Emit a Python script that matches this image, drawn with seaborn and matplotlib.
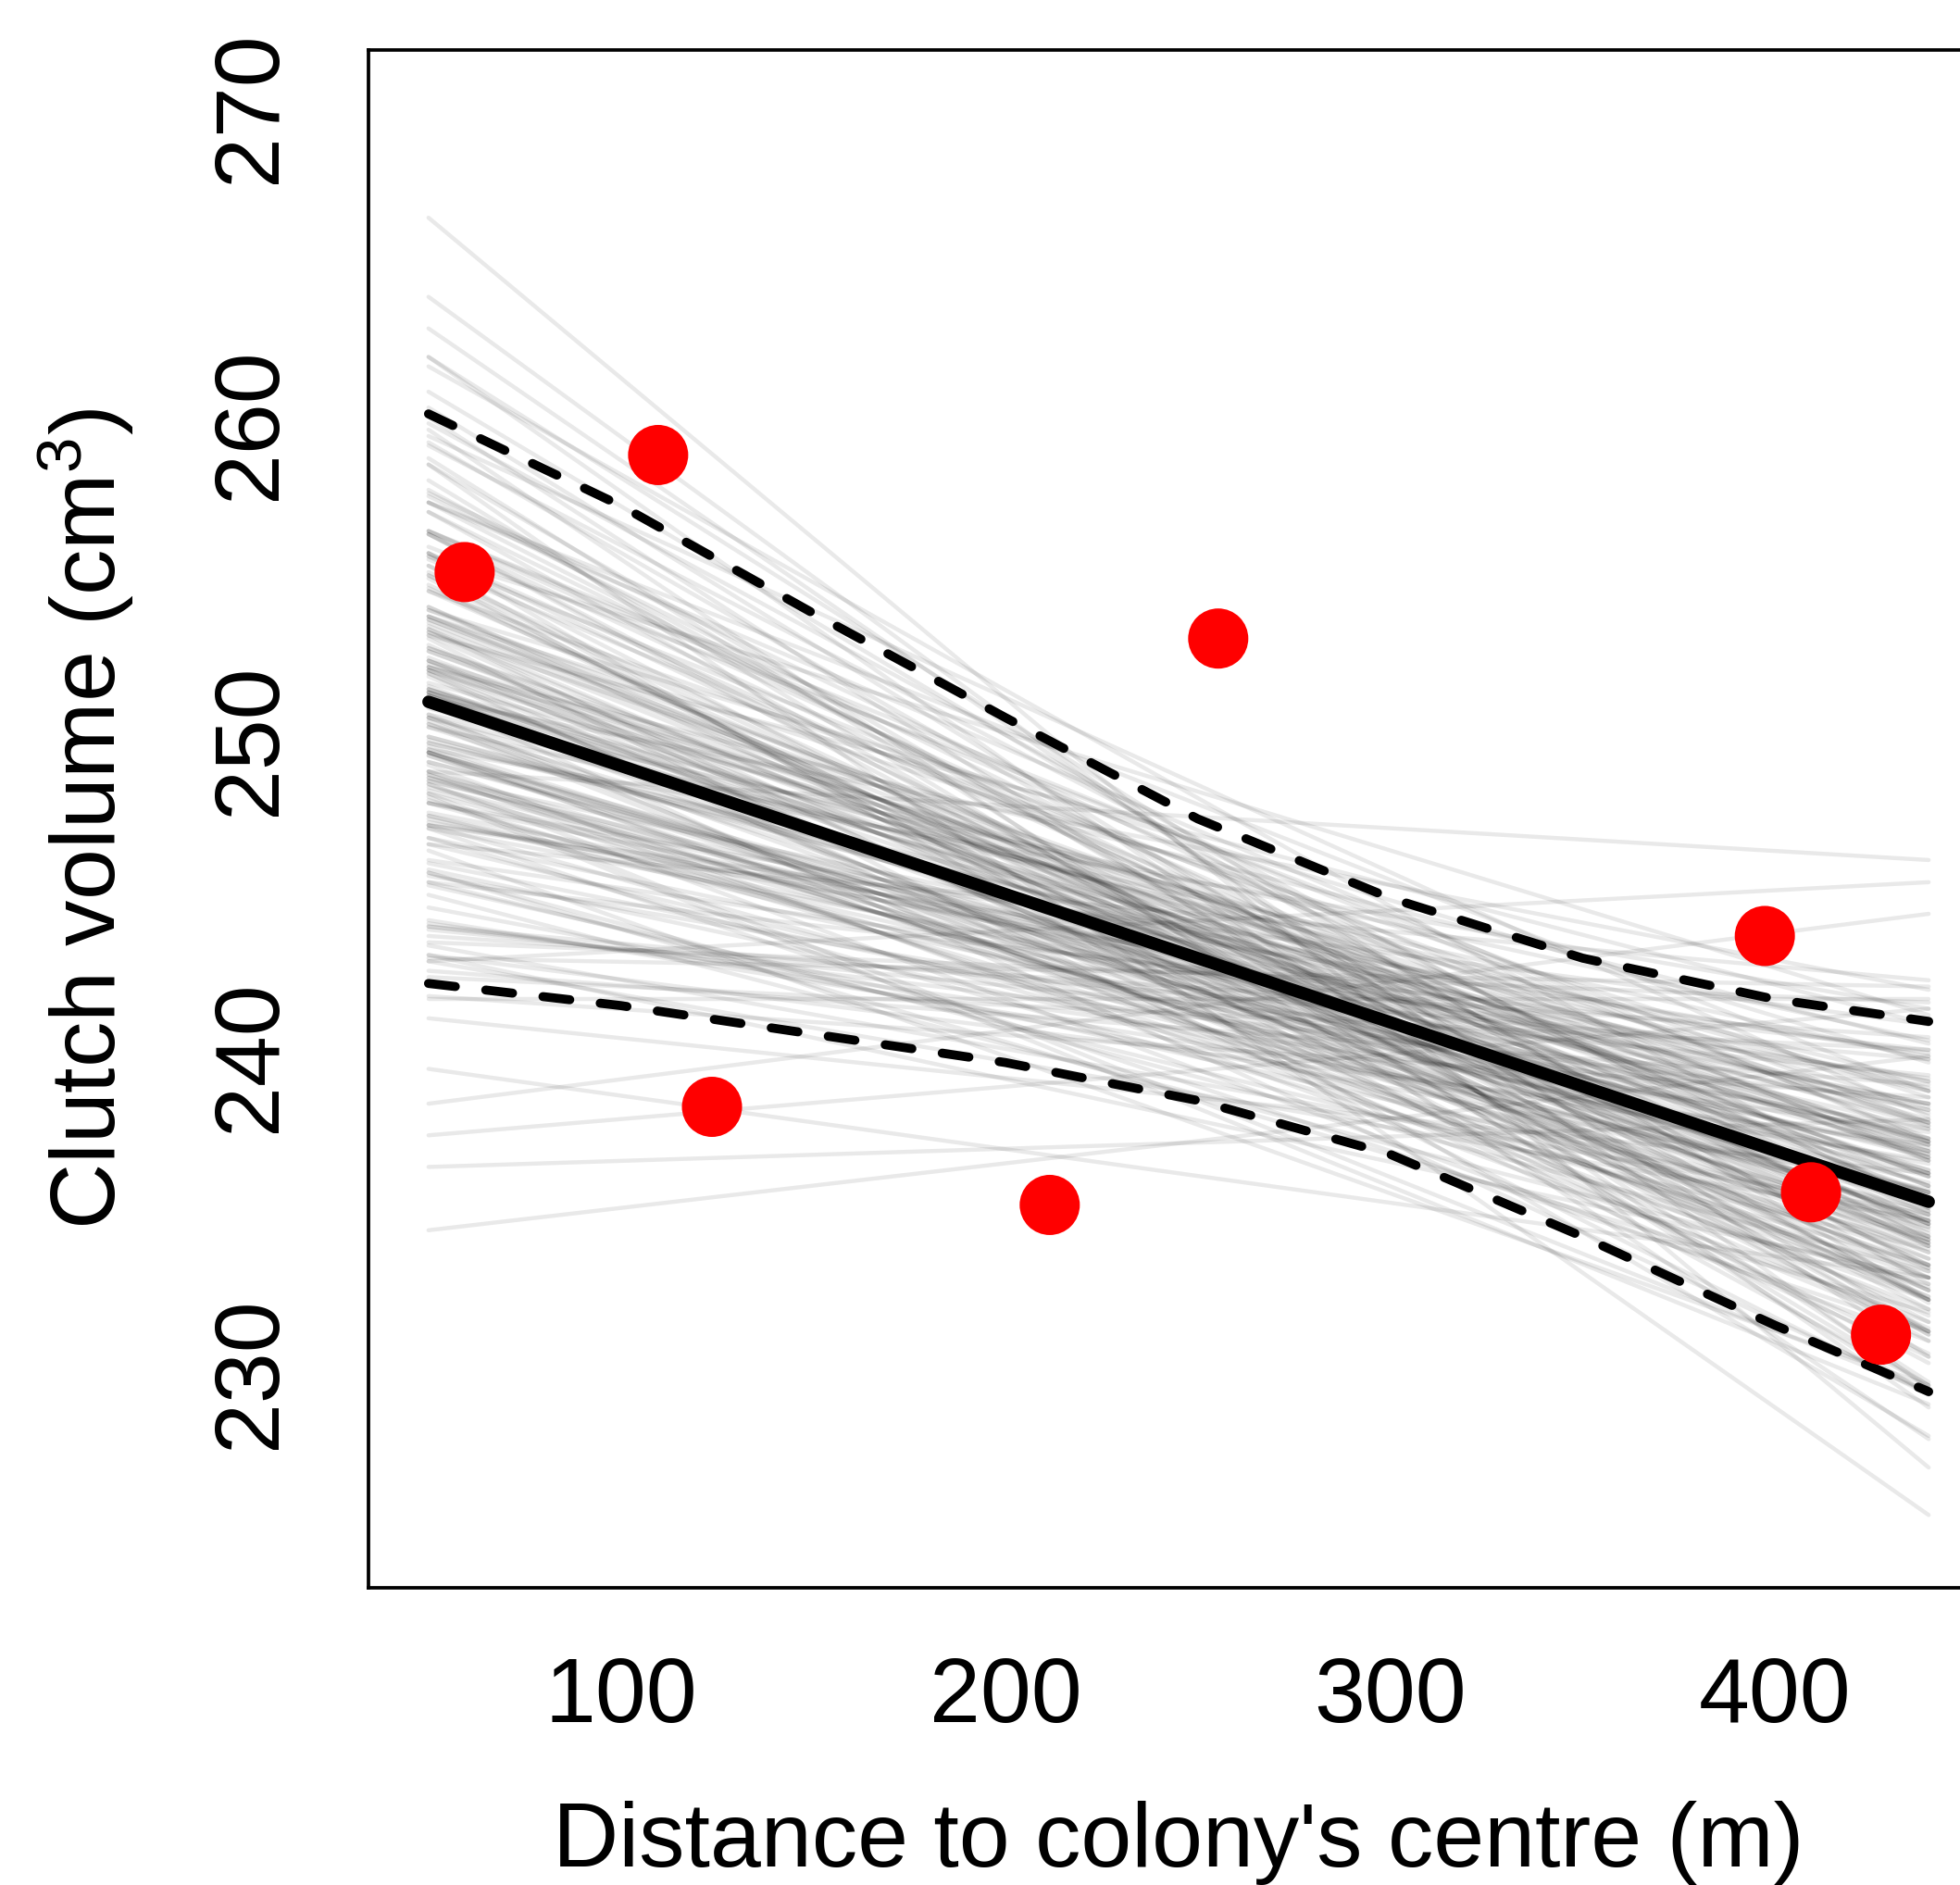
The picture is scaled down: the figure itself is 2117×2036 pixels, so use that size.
import numpy as np
import pandas as pd
import matplotlib
matplotlib.use("Agg")
import matplotlib.pyplot as plt
import seaborn as sns

# ---- data ----
obs_distance = [59.4, 109.7, 123.7, 211.5, 255.3, 397.4, 409.4, 427.6]
obs_volume = [255.3, 259.0, 238.4, 235.3, 253.2, 243.8, 235.7, 231.2]

line_x = [50, 440]
mean_line = [251.2, 235.4]

band_x = [50, 100, 150, 200, 250, 300, 350, 400, 440]
band_upper = [260.3, 257.4, 254.0, 250.7, 247.5, 245.0, 243.1, 241.8, 241.1]
band_lower = [242.3, 241.6, 240.7, 239.8, 238.6, 236.9, 234.3, 231.5, 229.4]

# posterior regression lines: value at x=50 and at x=440
draw_left = [253.9, 247.3, 248.0, 256.5, 253.9, 251.2, 248.5, 251.3, 243.6, 260.2,
             249.5, 256.6, 243.2, 251.6, 257.5, 246.9, 257.2, 248.9, 250.0, 253.5,
             250.4, 241.9, 259.4, 245.8, 253.9, 255.1, 247.7, 252.0, 252.3, 249.6,
             262.1, 243.5, 254.1, 249.5, 259.3, 249.6, 258.2, 251.4, 245.4, 255.3,
             255.8, 244.2, 253.7, 248.2, 252.3, 244.0, 252.9, 255.5, 248.7, 256.6,
             251.4, 247.3, 245.8, 255.9, 249.7, 261.8, 253.0, 241.8, 250.5, 251.5,
             254.9, 260.5, 246.7, 256.6, 250.4, 245.5, 253.2, 252.9, 248.3, 252.6,
             251.3, 259.8, 248.8, 247.2, 254.7, 245.7, 252.5, 248.1, 256.5, 239.6,
             257.8, 247.5, 251.0, 255.9, 251.6, 252.2, 243.8, 248.9, 262.1, 251.4,
             266.5, 234.5, 249.0, 258.7, 264.0, 236.5, 238.5, 243.0, 263.0, 237.5,
             249.8, 255.5, 245.5, 246.2, 257.5, 252.5, 254.1, 249.6, 249.3, 254.2,
             252.4, 244.7, 254.7, 252.1, 244.1, 248.6, 249.9, 257.2, 252.2, 248.0,
             249.7, 253.5, 250.7, 243.2, 255.9, 246.1, 261.0, 249.6, 254.2, 250.8,
             243.1, 247.6, 259.6, 249.0, 252.8, 241.2, 251.8, 258.9, 249.9, 251.5,
             247.3, 248.6, 257.9, 247.6, 256.1, 255.2, 244.3, 252.8, 246.5, 252.2,
             244.1, 255.7, 252.5, 250.5, 246.9, 257.7, 249.3, 248.0, 250.6, 253.3,
             255.8, 250.1, 243.0, 253.6, 250.7, 250.8, 242.5, 253.4, 255.2, 251.1,
             245.1, 256.5, 249.0, 250.7, 253.3, 258.7, 249.6, 247.4, 248.4, 257.5,
             248.8, 248.7, 252.1, 251.6, 253.4, 253.8, 245.9, 246.7, 254.8, 250.1,
             248.3, 253.8, 242.7, 252.3, 260.0, 251.5, 247.2, 249.2, 251.5, 251.7]
draw_right = [234.7, 234.0, 240.0, 231.3, 238.7, 233.3, 237.3, 229.4, 241.7, 229.7,
              235.0, 235.4, 237.2, 235.7, 238.9, 237.0, 234.0, 232.3, 237.4, 233.6,
              239.9, 238.7, 232.2, 231.9, 236.7, 231.2, 238.5, 231.4, 240.4, 235.7,
              228.9, 235.0, 236.2, 233.6, 234.7, 236.3, 229.6, 236.9, 234.8, 233.4,
              241.3, 237.6, 235.1, 229.0, 238.4, 239.4, 236.3, 229.6, 236.8, 236.7,
              234.2, 240.1, 233.2, 233.4, 234.5, 235.2, 231.8, 241.8, 232.0, 238.2,
              232.3, 231.3, 235.4, 237.4, 235.3, 240.2, 229.3, 237.0, 235.7, 234.7,
              242.1, 227.9, 238.9, 231.3, 234.1, 237.7, 237.9, 234.2, 232.0, 233.0,
              235.3, 236.9, 237.8, 228.0, 236.4, 233.0, 240.6, 234.3, 232.3, 234.8,
              227.0, 240.0, 246.2, 225.5, 229.5, 238.0, 244.5, 245.5, 230.5, 241.5,
              234.9, 235.9, 233.9, 239.3, 233.3, 234.3, 239.8, 233.4, 237.0, 232.6,
              236.8, 235.8, 237.8, 233.2, 239.9, 231.0, 239.0, 231.0, 235.9, 235.1,
              241.5, 230.6, 237.1, 233.0, 235.0, 236.6, 232.8, 235.4, 234.0, 231.3,
              242.2, 237.4, 238.1, 234.1, 235.2, 236.3, 238.9, 229.3, 238.3, 234.6,
              241.0, 233.0, 232.3, 236.0, 237.9, 233.0, 236.7, 235.9, 229.6, 237.3,
              238.5, 236.8, 232.3, 236.3, 233.4, 234.2, 236.4, 238.5, 232.4, 241.0,
              231.6, 237.9, 234.8, 234.7, 233.8, 240.5, 240.2, 237.2, 230.3, 235.5,
              232.8, 234.3, 235.5, 239.2, 232.4, 231.2, 232.7, 239.2, 236.2, 237.3,
              234.6, 237.7, 230.5, 238.0, 233.8, 235.6, 235.7, 242.4, 232.6, 237.2,
              229.4, 236.2, 239.1, 234.8, 234.4, 232.6, 238.3, 231.6, 237.3, 234.1]

x_ticks = [100, 200, 300, 400]
y_ticks = [230, 240, 250, 260, 270]
x_label = "Distance to colony's centre (m)"
y_label = "Clutch volume (cm$^{3}$)"

# ---- build long tables ----
draws = pd.DataFrame({
    "x": np.tile(line_x, len(draw_left)),
    "y": np.ravel(np.column_stack([draw_left, draw_right])),
    "draw": np.repeat(np.arange(len(draw_left)), 2),
})
mean_df = pd.DataFrame({"x": line_x, "y": mean_line})
band_df = pd.DataFrame({"x": band_x, "upper": band_upper, "lower": band_lower})
obs_df = pd.DataFrame({"x": obs_distance, "y": obs_volume})

sns.set_style("white")
plt.rcParams["font.family"] = ["Liberation Sans", "DejaVu Sans"]
plt.rcParams["mathtext.fontset"] = "custom"
plt.rcParams["mathtext.rm"] = "Liberation Sans"
plt.rcParams["mathtext.it"] = "Liberation Sans"

fig = plt.figure(figsize=(21.17, 20.36), dpi=100)
W, H = 2117, 2036
ax = fig.add_axes([398 / W, (H - 1715) / H, (2148 - 398) / W, (1715 - 54) / H])

sns.lineplot(data=draws, x="x", y="y", units="draw", estimator=None,
             color="black", alpha=0.088, lw=3.2, ax=ax, legend=False)

for col in ["upper", "lower"]:
    sns.lineplot(data=band_df, x="x", y=col, color="black", lw=7.0, ax=ax,
                 dashes=False, legend=False)
for line in ax.lines[-2:]:
    line.set_dashes((3.0, 3.4))
    line.set_dash_capstyle("round")

sns.lineplot(data=mean_df, x="x", y="y", color="black", lw=9.7, ax=ax,
             legend=False, solid_capstyle="round")

sns.scatterplot(data=obs_df, x="x", y="y", color="#FF0000", s=2190,
                edgecolor="none", linewidth=0, ax=ax, zorder=5, legend=False)

ax.set_xlim(34.4, 455.6)
ax.set_ylim(223.2, 271.8)
ax.set_xticks(x_ticks)
ax.set_yticks(y_ticks)
ax.set_xticklabels([str(v) for v in x_ticks])
ax.set_yticklabels([str(v) for v in y_ticks], rotation=90, va="center")

for side in ["left", "bottom", "top", "right"]:
    ax.spines[side].set_visible(True)
    ax.spines[side].set_linewidth(2.7)
    ax.spines[side].set_color("black")

ax.tick_params(axis="both", direction="out", length=30, width=2.2,
               labelsize=71, colors="black")
ax.tick_params(axis="x", pad=23)
ax.tick_params(axis="y", pad=28)

ax.set_xlabel(x_label, fontsize=71, labelpad=47, color="black")
ax.set_ylabel(y_label, fontsize=71, labelpad=57, color="black")
ax.grid(False)

fig.savefig("out.png", dpi=100, facecolor="white")
